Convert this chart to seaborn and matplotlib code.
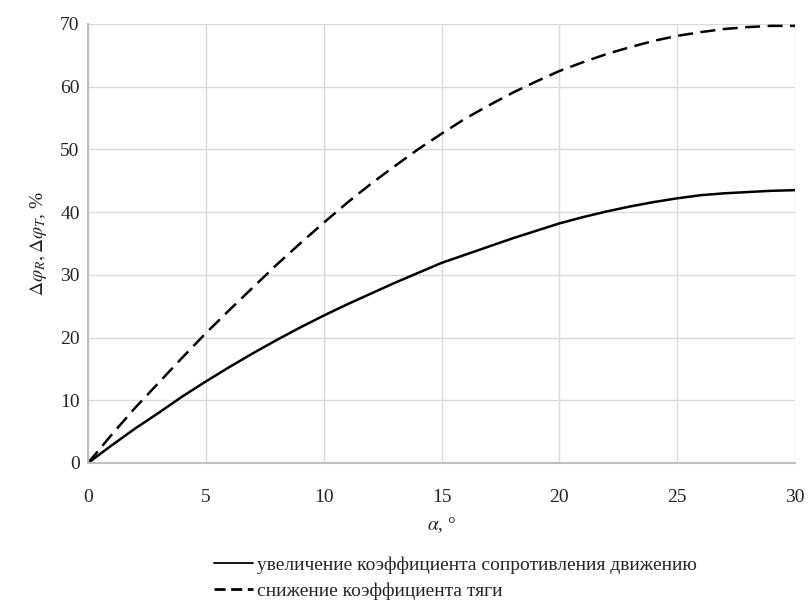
import numpy as np
import pandas as pd
import seaborn as sns
import matplotlib.pyplot as plt
from matplotlib.lines import Line2D

# angle, degrees
alpha = [0, 1, 2, 3, 4, 5, 6, 7, 8, 9, 10, 11, 12, 13, 14, 15,
         16, 17, 18, 19, 20, 21, 22, 23, 24, 25, 26, 27, 28, 29, 30]
# resistance coefficient increase, %
resist = [0, 2.8, 5.5, 8.0, 10.6, 13.0, 15.3, 17.5, 19.6, 21.6, 23.5,
          25.3, 27.0, 28.7, 30.3, 31.9, 33.2, 34.5, 35.8, 37.0, 38.2,
          39.2, 40.1, 40.9, 41.6, 42.2, 42.7, 43.0, 43.2, 43.4, 43.5]
# traction coefficient decrease, %
traction = [0, 4.5, 8.8, 12.8, 16.8, 20.7, 24.4, 28.0, 31.6, 35.0, 38.3,
            41.5, 44.5, 47.3, 50.0, 52.5, 54.9, 57.0, 59.0, 60.8, 62.5,
            63.9, 65.2, 66.3, 67.3, 68.1, 68.7, 69.2, 69.5, 69.7, 69.7]

labels = ["увеличение коэффициента сопротивления движению",
          "снижение коэффициента тяги"]

df = pd.DataFrame({
    "alpha": alpha * 2,
    "value": resist + traction,
    "series": [labels[0]] * len(alpha) + [labels[1]] * len(alpha),
})

sns.set_theme(style="whitegrid")
plt.rcParams["font.family"] = ["Liberation Serif", "DejaVu Serif"]
plt.rcParams["mathtext.fontset"] = "stix"

fig = plt.figure(figsize=(8.09, 6.10), dpi=100)
ax = fig.add_axes([0.1088, 0.241, 0.8739, 0.7197])

sns.lineplot(data=df, x="alpha", y="value", style="series",
             dashes={labels[0]: "", labels[1]: (6, 3)},
             color="black", linewidth=1.8, ax=ax, legend=False)

ax.set_xlim(0, 30)
ax.set_ylim(0, 70)
ax.set_xticks(range(0, 31, 5))
ax.set_yticks(range(0, 71, 10))
ax.grid(True, color="#d9d9d9", linewidth=1)
for s in ["top", "right"]:
    ax.spines[s].set_visible(False)
for s in ["left", "bottom"]:
    ax.spines[s].set_color("#bfbfbf")
    ax.spines[s].set_linewidth(1.5)
ax.tick_params(axis="both", labelsize=14, labelcolor="#262626", length=0)
ax.tick_params(axis="x", pad=19)
ax.tick_params(axis="y", pad=6)

ax.set_xlabel(r"$\alpha$, °", fontsize=14, labelpad=6)
ax.set_ylabel(r"$\Delta\varphi_R, \Delta\varphi_T$, %", fontsize=14, labelpad=8)

handles = [Line2D([], [], color="black", linewidth=1.3),
           Line2D([], [], color="black", linewidth=2, dashes=(4, 2))]
fig.legend(handles, labels, loc="upper left", bbox_to_anchor=(0.265, 0.088),
           frameon=False, fontsize=14, handlelength=2.0, handletextpad=0.2,
           labelspacing=0.45, borderaxespad=0, borderpad=0)

fig.savefig("out.png", dpi=100)
